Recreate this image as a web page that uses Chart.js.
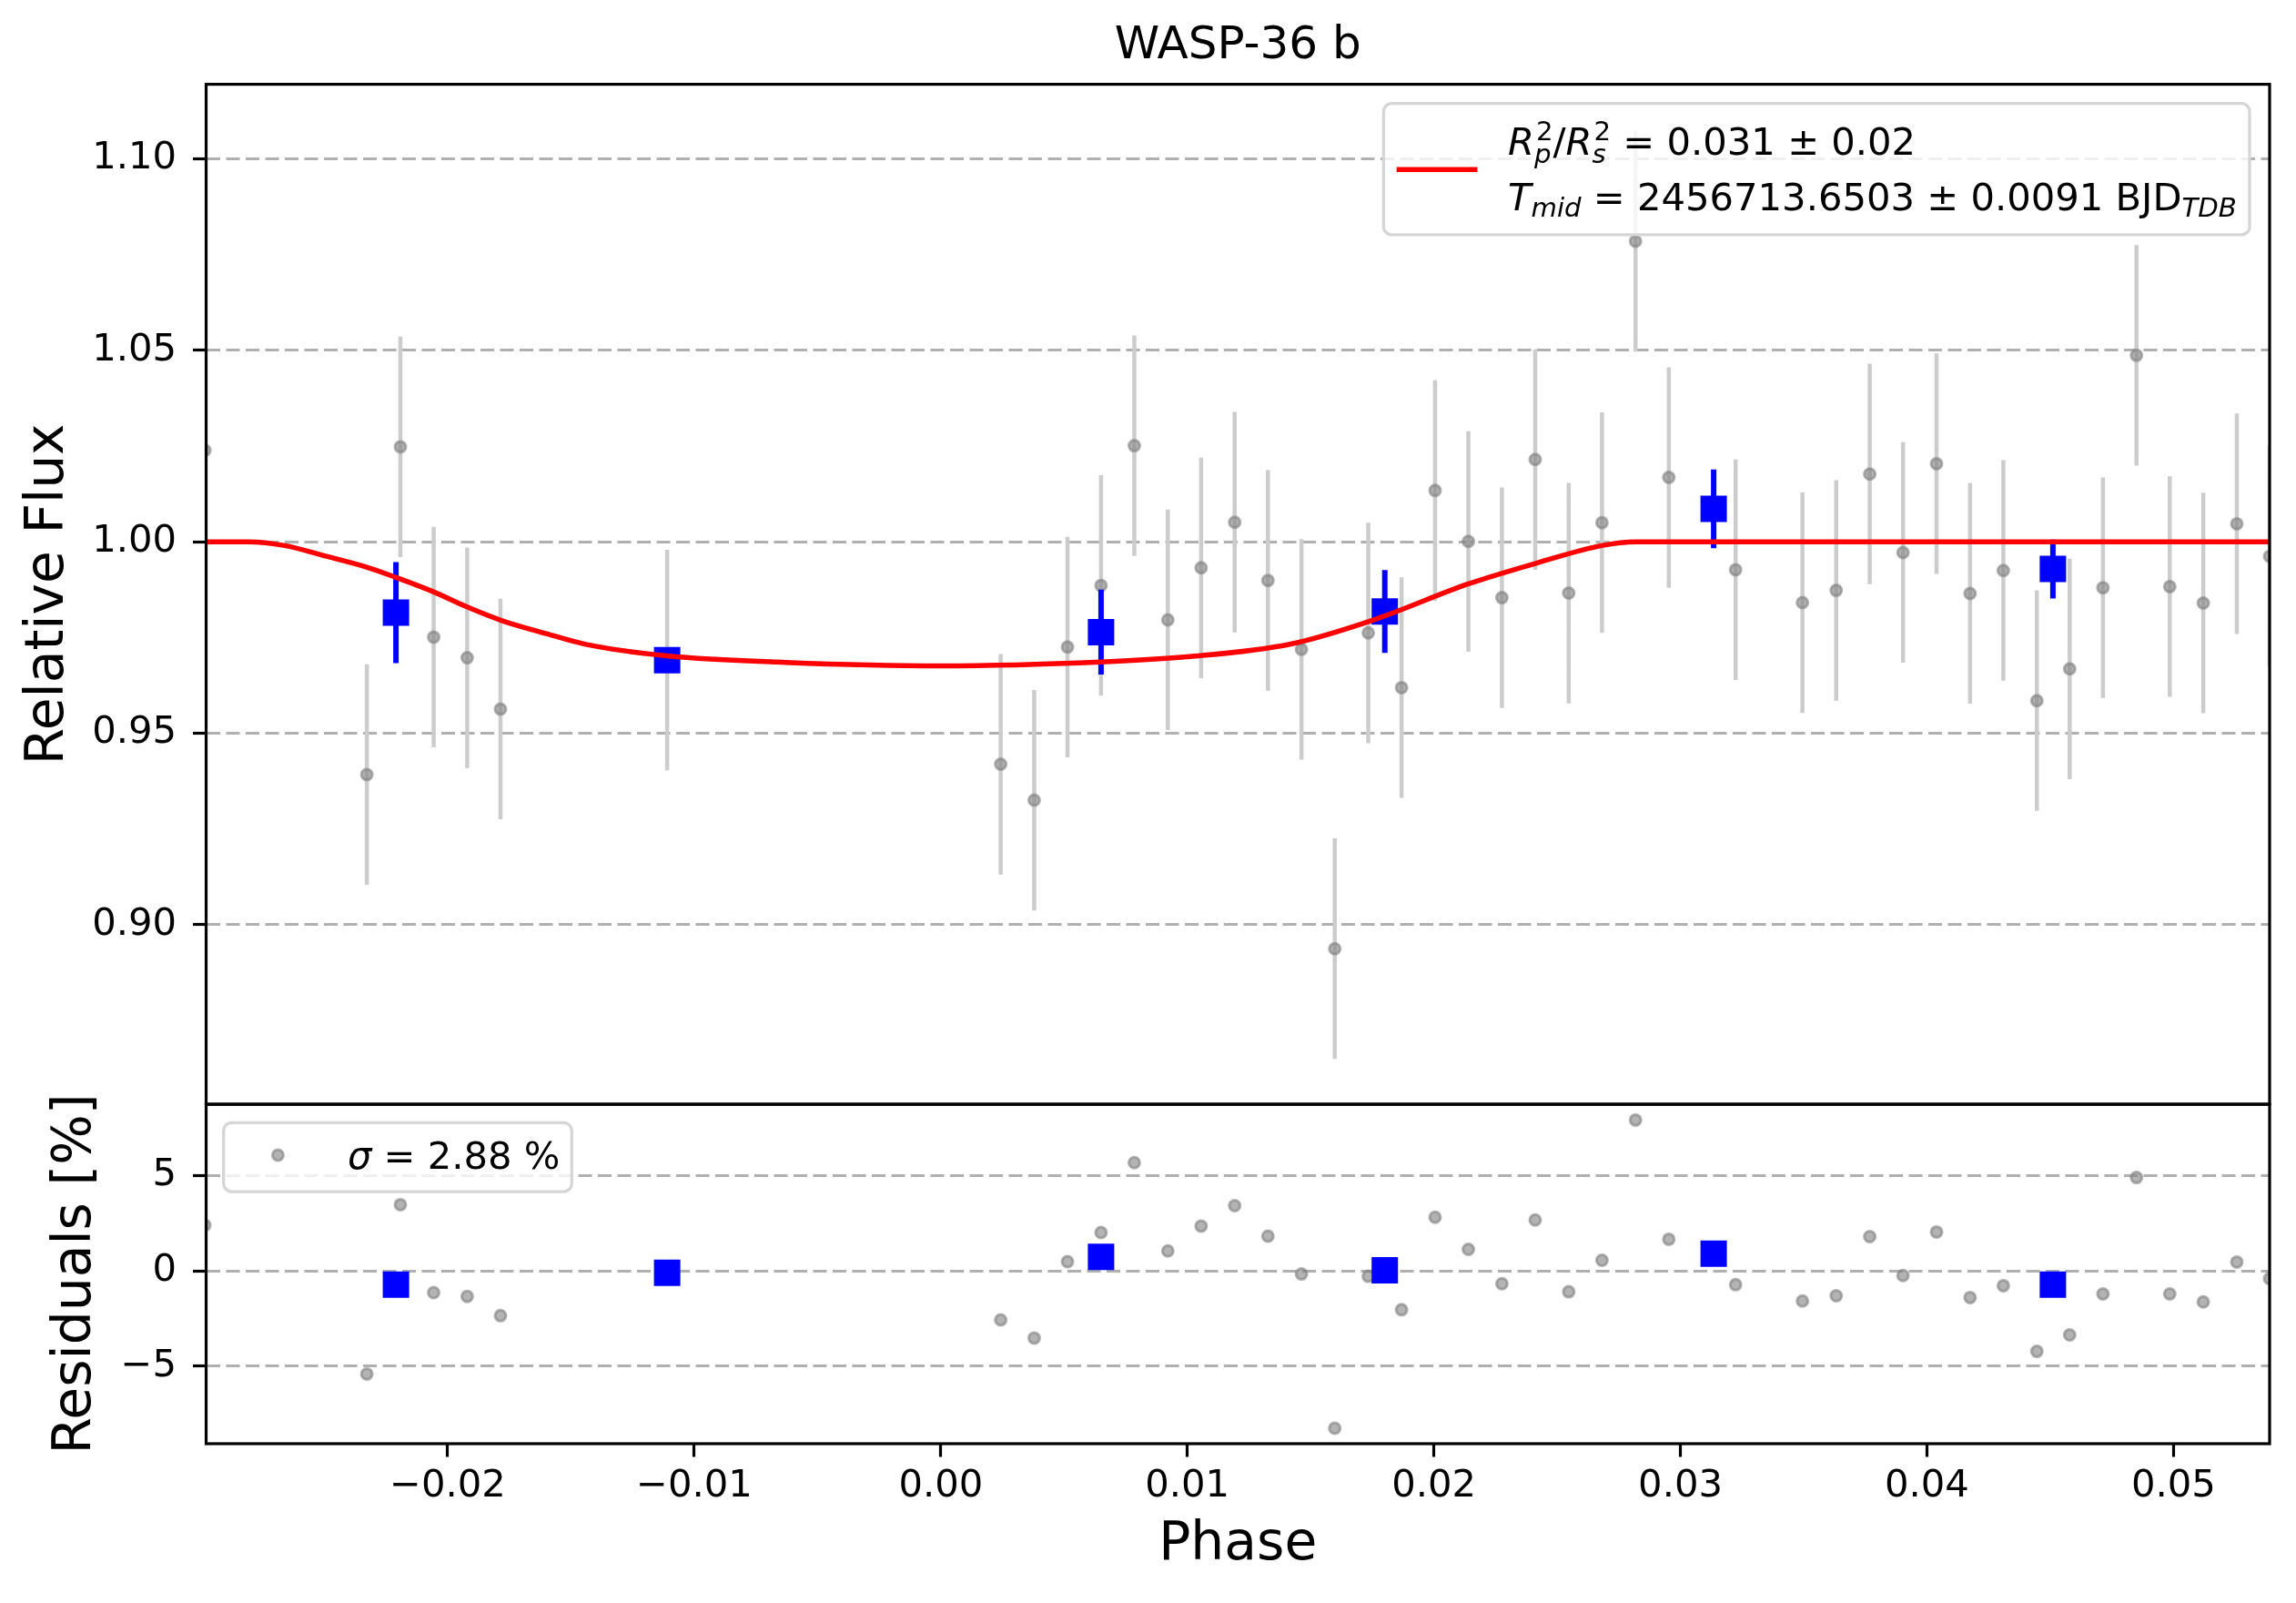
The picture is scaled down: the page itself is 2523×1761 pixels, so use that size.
<!DOCTYPE html>
<html>
<head>
<meta charset="utf-8">
<title>WASP-36 b</title>
<script src="https://cdn.jsdelivr.net/npm/chart.js@4.4.1/dist/chart.umd.min.js"></script>
<style>
  html, body { margin: 0; padding: 0; background: #fff; }
  #wrap { position: relative; width: 2523px; height: 1761px; }
  #fluxChart { position: absolute; left: 0; top: 0; }
  #residChart { position: absolute; left: 0; top: 1200px; }
</style>
</head>
<body>
<div id="wrap">
  <canvas id="fluxChart" width="2523" height="1220"></canvas>
  <canvas id="residChart" width="2523" height="561"></canvas>
</div>
<script>
// single exposures (grey)
var phase = [-0.02985, -0.02328, -0.02192, -0.02057, -0.01921, -0.01786, -0.01110,
  0.00243, 0.00379, 0.00514, 0.00650, 0.00785, 0.00921, 0.01056, 0.01192, 0.01327,
  0.01463, 0.01598, 0.01734, 0.01869, 0.02005, 0.02140, 0.02276, 0.02411, 0.02547,
  0.02682, 0.02818, 0.02953, 0.03224, 0.03495, 0.03632, 0.03768, 0.03903, 0.04039,
  0.04175, 0.04310, 0.04446, 0.04579, 0.04714, 0.04850, 0.04985, 0.05121, 0.05257, 0.05390];
var flux = [1.0239, 0.9392, 1.0248, 0.9751, 0.9697, 0.9563, 0.9691,
  0.9419, 0.9325, 0.9725, 0.9886, 1.0251, 0.9796, 0.9932, 1.0051, 0.9899,
  0.9719, 0.8937, 0.9762, 0.9619, 1.0134, 1.0001, 0.9854, 1.0215, 0.9866,
  1.0050, 1.0785, 1.0168, 0.9927, 0.9841, 0.9873, 1.0177, 0.9972, 1.0204,
  0.9865, 0.9925, 0.9585, 0.9668, 0.9880, 1.0487, 0.9883, 0.9840, 1.0047, 0.9962];
var fluxErr = [0.0288, 0.0288, 0.0288, 0.0288, 0.0288, 0.0288, 0.0288,
  0.0288, 0.0288, 0.0288, 0.0288, 0.0288, 0.0288, 0.0288, 0.0288, 0.0288,
  0.0288, 0.0288, 0.0288, 0.0288, 0.0288, 0.0288, 0.0288, 0.0288, 0.0288,
  0.0288, 0.0288, 0.0288, 0.0288, 0.0288, 0.0288, 0.0288, 0.0288, 0.0288,
  0.0288, 0.0288, 0.0288, 0.0288, 0.0288, 0.0288, 0.0288, 0.0288, 0.0288, 0.0288];
var resid = [2.39, -5.40, 3.46, -1.14, -1.34, -2.35, -0.10,
  -2.57, -3.52, 0.48, 2.00, 5.66, 1.04, 2.34, 3.41, 1.81,
  -0.17, -8.24, -0.29, -2.04, 2.80, 1.12, -0.68, 2.66, -1.10,
  0.55, 7.89, 1.65, -0.73, -1.58, -1.31, 1.79, -0.25, 2.03,
  -1.40, -0.78, -4.22, -3.36, -1.21, 4.88, -1.21, -1.63, 0.46, -0.41];

// binned points (blue)
var binPhase = [-0.02210, -0.01110, 0.00650, 0.01801, 0.03135, 0.04511];
var binFlux = [0.9815, 0.9691, 0.9764, 0.9818, 1.0086, 0.9929];
var binErr = [0.0132, 0, 0.0111, 0.0108, 0.0103, 0.0077];
var binResid = [-0.73, -0.10, 0.73, 0.03, 0.89, -0.73];

// transit model (red)
var modelPhase = [-0.0298, -0.0281, -0.0266, -0.0251, -0.0232, -0.0221, -0.0206, -0.0193,
  -0.0178, -0.0160, -0.0144, -0.0111, -0.0063, 0.0000, 0.0065, 0.0101, 0.0142, 0.0176,
  0.0214, 0.0242, 0.0268, 0.0282, 0.0539];
var modelFlux = [1.0000, 1.0000, 0.9990, 0.9965, 0.9932, 0.9907, 0.9870, 0.9832,
  0.9794, 0.9760, 0.9732, 0.9702, 0.9685, 0.9676, 0.9686, 0.9700, 0.9733, 0.9797,
  0.9890, 0.9945, 0.9990, 1.0000, 1.0000];

var phaseTicks = [-0.02, -0.01, 0.00, 0.01, 0.02, 0.03, 0.04, 0.05];
var fluxTicks = [0.90, 0.95, 1.00, 1.05, 1.10];
var residTicks = [-5, 0, 5];

var FONT = "'DejaVu Sans'";
var GREY = 'rgba(128,128,128,0.6)';

function fmt(v, d) {
    var s = v.toFixed(d);
    if (s.charAt(0) === '-') s = '\u2212' + s.slice(1);
    return s;
}

function points(xs, ys) {
    return xs.map(function(x, i) { return {x: x, y: ys[i]}; });
}

// vertical segments, broken by a null point after each one
function errorSegments(xs, ys, errs) {
    var pts = [];
    for (var i = 0; i < xs.length; i++) {
        pts.push({x: xs[i], y: ys[i] - errs[i]});
        pts.push({x: xs[i], y: ys[i] + errs[i]});
        pts.push({x: xs[i], y: null});
    }
    return pts;
}

function setTicks(values) {
    return function(scale) {
        scale.ticks = values.map(function(v) { return {value: v}; });
    };
}

function yAxis(min, max, ticks, decimals, title, titlePad) {
    return {
        type: 'linear',
        min: min,
        max: max,
        afterBuildTicks: setTicks(ticks),
        afterFit: function(scale) {
            scale.width = 226.5;
            // no extra room for the end labels, the plot box is fixed
            scale.paddingTop = 0;
            scale.paddingBottom = 0;
        },
        grid: {
            color: '#b0b0b0', lineWidth: 3,
            drawTicks: true, tickLength: 14.5, tickWidth: 3.2,
            tickColor: '#000', tickBorderDash: []
        },
        border: { display: false, dash: [15, 6.5] },
        ticks: {
            color: '#000', padding: 18,
            font: { family: FONT, size: 41.7 },
            callback: function(v) { return fmt(v, decimals); }
        },
        title: {
            display: true, text: title, color: '#000',
            font: { family: FONT, size: 58.3 },
            padding: { top: titlePad, bottom: 0 }
        }
    };
}

// black box round the plot area
var framePlugin = {
    id: 'frame',
    afterDatasetsDraw: function(chart) {
        var a = chart.chartArea, ctx = chart.ctx;
        ctx.save();
        ctx.strokeStyle = '#000';
        ctx.lineWidth = 3.2;
        ctx.strokeRect(a.left, a.top, a.right - a.left, a.bottom - a.top);
        ctx.restore();
    }
};

function legendBox(ctx, x, y, w, h) {
    ctx.save();
    ctx.beginPath();
    ctx.roundRect(x, y, w, h, 9);
    ctx.fillStyle = 'rgba(255,255,255,0.8)';
    ctx.fill();
    ctx.strokeStyle = '#d6d6d6';
    ctx.lineWidth = 3.3;
    ctx.stroke();
    ctx.restore();
}

// draw a run of text pieces; a piece may carry a superscript and a subscript
function drawRich(ctx, x, y, pieces) {
    var size = 41.7, small = 29.2;
    pieces.forEach(function(p) {
        if (p.t) {
            ctx.font = (p.it ? 'italic ' : '') + size + 'px ' + FONT;
            ctx.fillText(p.t, x, y);
            x += ctx.measureText(p.t).width;
        }
        var adv = 0;
        if (p.sup) {
            ctx.font = small + 'px ' + FONT;
            ctx.fillText(p.sup, x + 2, y - 15.5);
            adv = Math.max(adv, ctx.measureText(p.sup).width + 2);
        }
        if (p.sub) {
            ctx.font = (p.subIt ? 'italic ' : '') + small + 'px ' + FONT;
            ctx.fillText(p.sub, x, y + (p.sup ? 9 : 7));
            adv = Math.max(adv, ctx.measureText(p.sub).width);
        }
        x += adv;
    });
}

var fluxLegend = {
    id: 'fluxLegend',
    afterDatasetsDraw: function(chart) {
        var a = chart.chartArea, ctx = chart.ctx;
        var w = 951.6, h = 144.3;
        var x0 = a.right - 22 - w, y0 = a.top + 21;
        legendBox(ctx, x0, y0, w, h);
        ctx.save();
        ctx.strokeStyle = '#ff0000';
        ctx.lineWidth = 5.5;
        ctx.beginPath();
        ctx.moveTo(x0 + 14.3, y0 + 72.7);
        ctx.lineTo(x0 + 103.1, y0 + 72.7);
        ctx.stroke();
        ctx.fillStyle = '#000';
        ctx.textBaseline = 'alphabetic';
        ctx.textAlign = 'left';
        drawRich(ctx, x0 + 136.6, y0 + 56.3, [
            {t: 'R', it: true, sup: '2', sub: 'p', subIt: true},
            {t: '/'},
            {t: 'R', it: true, sup: '2', sub: 's', subIt: true},
            {t: ' = 0.031 \u00b1 0.02'}
        ]);
        drawRich(ctx, x0 + 136.6, y0 + 117.3, [
            {t: 'T', it: true, sub: 'mid', subIt: true},
            {t: ' = 2456713.6503 \u00b1 0.0091 BJD', sub: 'TDB', subIt: true}
        ]);
        ctx.restore();
    }
};

var residLegend = {
    id: 'residLegend',
    afterDatasetsDraw: function(chart) {
        var a = chart.chartArea, ctx = chart.ctx;
        var w = 382.6, h = 75.8;
        var x0 = a.left + 19.2, y0 = a.top + 20.1;
        legendBox(ctx, x0, y0, w, h);
        ctx.save();
        ctx.beginPath();
        ctx.arc(x0 + 59.7, y0 + 35.7, 6, 0, Math.PI * 2);
        ctx.fillStyle = GREY;
        ctx.fill();
        ctx.lineWidth = 3;
        ctx.strokeStyle = GREY;
        ctx.stroke();
        ctx.fillStyle = '#000';
        ctx.textBaseline = 'alphabetic';
        drawRich(ctx, x0 + 136.2, y0 + 50.7, [
            {t: '\u03c3', it: true},
            {t: ' = 2.88 %'}
        ]);
        ctx.restore();
    }
};

document.addEventListener("DOMContentLoaded", function() {
    Chart.defaults.font.family = FONT;
    var xMin = -0.0298, xMax = 0.0539;

    // Light curve panel
    var ctx1 = document.getElementById('fluxChart').getContext('2d');
    var fluxChart = new Chart(ctx1, {
        type: 'line',
        data: {
            datasets: [{
                label: 'model',
                data: points(modelPhase, modelFlux),
                borderColor: '#ff0000',
                borderWidth: 5.5,
                pointRadius: 0,
                cubicInterpolationMode: 'monotone',
                clip: 0,
                order: 0
            }, {
                label: 'binned',
                data: points(binPhase, binFlux),
                showLine: false,
                pointStyle: 'rect',
                pointRadius: 20.5,
                pointBackgroundColor: '#0000ff',
                pointBorderWidth: 0,
                clip: 0,
                order: 1
            }, {
                label: 'binned error',
                data: errorSegments(binPhase, binFlux, binErr),
                borderColor: '#0000ff',
                borderWidth: 6,
                borderCapStyle: 'butt',
                pointRadius: 0,
                spanGaps: false,
                clip: 0,
                order: 2
            }, {
                label: 'data',
                data: points(phase, flux),
                showLine: false,
                pointRadius: 6,
                pointBackgroundColor: GREY,
                pointBorderColor: GREY,
                pointBorderWidth: 3,
                clip: 0,
                order: 3
            }, {
                label: 'data error',
                data: errorSegments(phase, flux, fluxErr),
                borderColor: '#cccccc',
                borderWidth: 4.5,
                borderCapStyle: 'butt',
                pointRadius: 0,
                spanGaps: false,
                clip: 0,
                order: 4
            }]
        },
        options: {
            responsive: false,
            animation: false,
            devicePixelRatio: 1,
            layout: { autoPadding: false, padding: { left: 0, top: 0, right: 29, bottom: 7 } },
            plugins: {
                legend: { display: false },
                tooltip: { enabled: false },
                title: {
                    display: true,
                    text: 'WASP-36 b',
                    color: '#000',
                    fullSize: false,
                    font: { family: FONT, size: 50, weight: 'normal' },
                    padding: { top: 21, bottom: 11.6 }
                }
            },
            scales: {
                x: { type: 'linear', min: xMin, max: xMax, display: false },
                y: yAxis(0.8531, 1.1195, fluxTicks, 2, 'Relative Flux', 18.8)
            }
        },
        plugins: [framePlugin, fluxLegend]
    });

    // Residuals panel
    var ctx2 = document.getElementById('residChart').getContext('2d');
    var residChart = new Chart(ctx2, {
        type: 'line',
        data: {
            datasets: [{
                label: 'binned',
                data: points(binPhase, binResid),
                showLine: false,
                pointStyle: 'rect',
                pointRadius: 20.5,
                pointBackgroundColor: '#0000ff',
                pointBorderWidth: 0,
                clip: 0,
                order: 0
            }, {
                label: 'residuals',
                data: points(phase, resid),
                showLine: false,
                pointRadius: 6,
                pointBackgroundColor: GREY,
                pointBorderColor: GREY,
                pointBorderWidth: 3,
                clip: 0,
                order: 1
            }]
        },
        options: {
            responsive: false,
            animation: false,
            devicePixelRatio: 1,
            layout: { autoPadding: false, padding: { left: 0, top: 13.2, right: 29, bottom: 0 } },
            plugins: {
                legend: { display: false },
                tooltip: { enabled: false }
            },
            scales: {
                x: {
                    type: 'linear',
                    min: xMin,
                    max: xMax,
                    afterBuildTicks: setTicks(phaseTicks),
                    afterFit: function(scale) {
                        scale.height = 175;
                        scale.paddingLeft = 0;
                        scale.paddingRight = 0;
                    },
                    grid: {
                        drawOnChartArea: false, drawTicks: true,
                        tickLength: 14.5, tickWidth: 3.2, tickColor: '#000'
                    },
                    border: { display: false },
                    ticks: {
                        color: '#000', padding: 8, maxRotation: 0, autoSkip: false,
                        font: { family: FONT, size: 41.7 },
                        callback: function(v) { return fmt(v, 2); }
                    },
                    title: {
                        display: true, text: 'Phase', color: '#000',
                        font: { family: FONT, size: 58.3 },
                        padding: { top: 0, bottom: 28.2 }
                    }
                },
                y: yAxis(-9.05, 8.71, residTicks, 0, 'Residuals [%]', 49.2)
            }
        },
        plugins: [framePlugin, residLegend]
    });
});
</script>
</body>
</html>
